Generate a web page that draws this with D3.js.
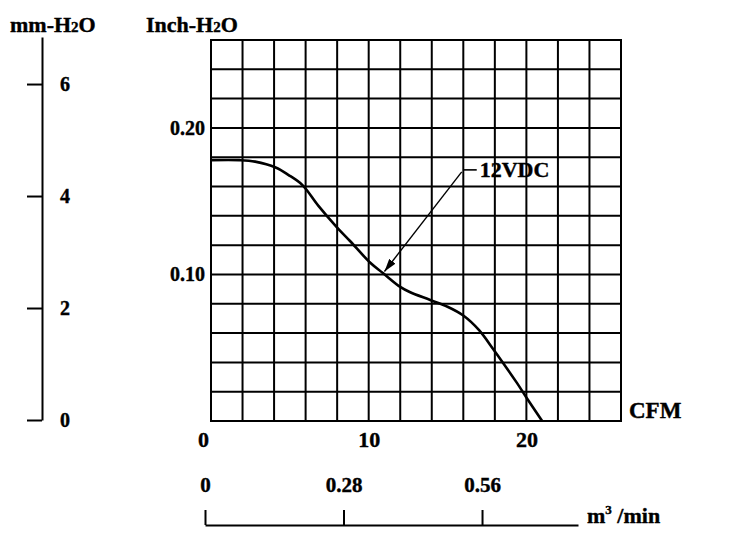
<!DOCTYPE html>
<html>
<head>
<meta charset="utf-8">
<script src="https://cdn.jsdelivr.net/npm/d3@7"></script>
<style>
  body { margin: 0; background: #fff; }
  text { font-family: "Liberation Serif", "Times New Roman", serif; font-weight: bold; fill: #000; stroke: #000; stroke-width: 0.4px; }
</style>
</head>
<body>
<div id="chart"></div>
<script>
// Data
const cfm = [0, 1.8, 2.8, 4.1, 4.9, 5.8, 6.8, 8.0, 8.8, 10.1, 10.9, 12.0, 12.6, 13.9, 15.0, 16.0, 17.0, 17.9, 18.5, 19.4, 20.0, 21.0]
const inchH2O = [0.178, 0.178, 0.177, 0.173, 0.168, 0.161, 0.147, 0.132, 0.123, 0.108, 0.101, 0.0915, 0.088, 0.0826, 0.078, 0.072, 0.062, 0.049, 0.040, 0.026, 0.016, 0.0]
const inchTicks = [0.10, 0.20]
const cfmTicks = [0, 10, 20]
const mmTicks = [0, 2, 4, 6]
const m3Ticks = [0, 0.28, 0.56]
const curveLabel = '12VDC'
const labelAnchor = [15.9, 0.170]   // where the leader starts (CFM, inch)
const arrowTip = [11.0, 0.102]      // where it points on the curve

function draw() {
  // Dimensions
  let dimensions = {
    width: 731,
    height: 533,
    left: 211,
    right: 621,
    top: 40,
    bottom: 421,
  }

  const svg = d3.select('#chart')
    .append('svg')
    .attr('width', dimensions.width)
    .attr('height', dimensions.height)

  // Scales
  const xScale = d3.scaleLinear().domain([0, 26]).range([dimensions.left, dimensions.right])
  const yScale = d3.scaleLinear().domain([0, 0.26]).range([dimensions.bottom, dimensions.top])
  const mmScale = d3.scaleLinear().domain([0, 6.84]).range([420, 37])
  const m3Scale = d3.scaleLinear().domain([0, 0.754]).range([205, 578])

  // Grid: every 2 CFM and every 0.02 inch
  const grid = svg.append('g')
    .attr('stroke', '#000')
    .attr('stroke-width', 2)
    .attr('stroke-linecap', 'square')

  grid.selectAll('line.v')
    .data(xScale.ticks(13))
    .join('line')
    .attr('class', 'v')
    .attr('x1', d => xScale(d))
    .attr('x2', d => xScale(d))
    .attr('y1', yScale(0))
    .attr('y2', yScale(0.26))

  grid.selectAll('line.h')
    .data(yScale.ticks(13))
    .join('line')
    .attr('class', 'h')
    .attr('x1', xScale(0))
    .attr('x2', xScale(26))
    .attr('y1', d => yScale(d))
    .attr('y2', d => yScale(d))

  // Curve
  const points = cfm.map((c, i) => ({ x: c, y: inchH2O[i] }))
  const lineGen = d3.line()
    .x(d => xScale(d.x))
    .y(d => yScale(d.y))
    .curve(d3.curveCatmullRom.alpha(0.5))

  svg.append('path')
    .datum(points)
    .attr('d', lineGen)
    .attr('fill', 'none')
    .attr('stroke', '#000')
    .attr('stroke-width', 2.6)

  // Arrow + label
  svg.append('defs').append('marker')
    .attr('id', 'head')
    .attr('markerUnits', 'userSpaceOnUse')
    .attr('markerWidth', 14)
    .attr('markerHeight', 8)
    .attr('refX', 13)
    .attr('refY', 4)
    .attr('orient', 'auto')
    .append('path')
    .attr('d', 'M0,0L13,4L0,8Z')
    .attr('fill', '#000')

  const ax = xScale(labelAnchor[0])
  const ay = yScale(labelAnchor[1])
  svg.append('line')
    .attr('x1', ax).attr('y1', ay)
    .attr('x2', xScale(arrowTip[0])).attr('y2', yScale(arrowTip[1]))
    .attr('stroke', '#000')
    .attr('stroke-width', 1.4)
    .attr('marker-end', 'url(#head)')
  svg.append('line')
    .attr('x1', ax + 2).attr('y1', ay - 2)
    .attr('x2', ax + 15).attr('y2', ay - 2)
    .attr('stroke', '#000')
    .attr('stroke-width', 1.6)
  svg.append('text')
    .attr('x', ax + 18)
    .attr('y', ay + 5)
    .attr('font-size', 22)
    .text(curveLabel)

  // Axes
  const inchAxis = d3.axisLeft(yScale)
    .tickValues(inchTicks)
    .tickSize(0)
    .tickPadding(6)
    .tickFormat(d3.format('.2f'))
  svg.append('g')
    .attr('transform', `translate(${dimensions.left},0)`)
    .call(inchAxis)
    .attr('font-size', 20)
    .attr('font-family', null)
    .call(g => g.select('.domain').remove())

  const cfmAxis = d3.axisBottom(xScale)
    .tickValues(cfmTicks)
    .tickSize(0)
    .tickPadding(10)
  svg.append('g')
    .attr('transform', `translate(0,${dimensions.bottom})`)
    .call(cfmAxis)
    .attr('font-size', 22)
    .attr('font-family', null)
    .call(g => g.select('.domain').remove())
    .call(g => g.selectAll('.tick text').filter(d => d === 0).attr('dx', -8))

  const mmAxis = d3.axisLeft(mmScale)
    .tickValues(mmTicks)
    .tickSize(15)
    .tickSizeOuter(0)
    .tickFormat(d3.format('d'))
  svg.append('g')
    .attr('transform', 'translate(42,0)')
    .call(mmAxis)
    .attr('font-size', 20)
    .attr('font-family', null)
    .call(g => g.select('.domain').attr('stroke-width', 2))
    .call(g => g.selectAll('.tick line').attr('stroke-width', 2))
    .call(g => g.selectAll('.tick text').attr('x', 18).attr('text-anchor', 'start'))

  const m3Axis = d3.axisTop(m3Scale)
    .tickValues(m3Ticks)
    .tickSize(15)
    .tickSizeOuter(0)
    .tickPadding(18)
    .tickFormat(d => d === 0 ? '0' : d3.format('.2f')(d))
  svg.append('g')
    .attr('transform', 'translate(0,525)')
    .call(m3Axis)
    .attr('font-size', 21)
    .attr('font-family', null)
    .call(g => g.select('.domain').attr('stroke-width', 2))
    .call(g => g.selectAll('.tick line').attr('stroke-width', 2))

  // Titles
  const mmTitle = svg.append('text').attr('x', 10).attr('y', 32).attr('font-size', 22)
  mmTitle.append('tspan').text('mm-H')
  mmTitle.append('tspan').attr('font-size', 15).text('2')
  mmTitle.append('tspan').text('O')

  const inchTitle = svg.append('text').attr('x', 146).attr('y', 32).attr('font-size', 22)
  inchTitle.append('tspan').text('Inch-H')
  inchTitle.append('tspan').attr('font-size', 15).text('2')
  inchTitle.append('tspan').text('O')

  svg.append('text')
    .attr('x', 629)
    .attr('y', 418)
    .attr('font-size', 23)
    .text('CFM')

  const m3Title = svg.append('text').attr('x', 587).attr('y', 523).attr('font-size', 22)
  m3Title.append('tspan').text('m')
  m3Title.append('tspan').attr('font-size', 13).attr('dy', -9).text('3')
  m3Title.append('tspan').attr('dy', 9).text(' /min')
}
draw()
</script>
</body>
</html>
